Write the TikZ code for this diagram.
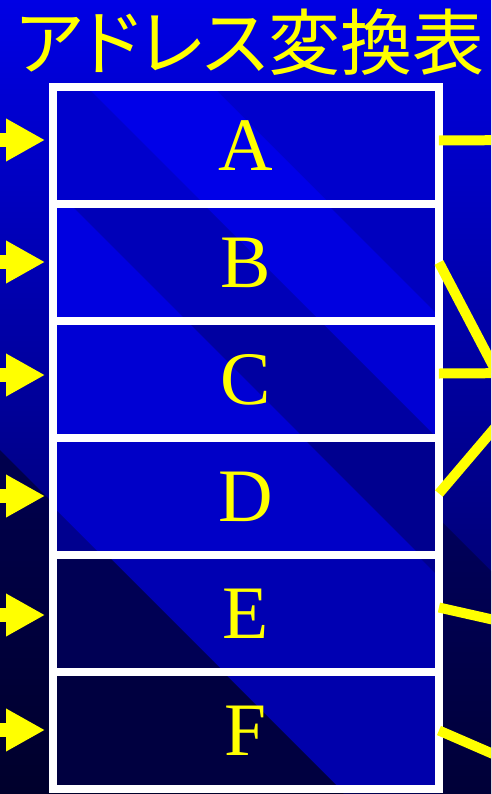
\documentclass[tikz,border=0pt]{standalone}
\usepackage{fontspec}
\setmainfont{Liberation Serif}
\newfontfamily\cjk[RawFeature=+palt]{Noto Sans CJK JP}
\usetikzlibrary{arrows.meta,calc}
\definecolor{bgTop}{HTML}{0000E4}
\definecolor{bgMid}{HTML}{0000D2}
\definecolor{bgBot}{HTML}{000050}
\definecolor{tabYellow}{HTML}{FFFF00}

% one diagonal band inside a cell: top x from #1 to #2 (pixels from the left edge)
\newcommand{\cellband}[3]{%
  \fill[#3] ($(path picture bounding box.north west)+(#1,0)$)
    -- ($(path picture bounding box.north west)+(#2,0)$)
    -- ($(path picture bounding box.north west)+(#2+117,117)$)
    -- ($(path picture bounding box.north west)+(#1+117,117)$) -- cycle;}

\begin{document}
\begin{tikzpicture}[
  x=0.02cm, y=-0.02cm,
  cell/.style={draw=white, line width=0.16cm, minimum width=7.72cm,
    minimum height=2.34cm, inner sep=0pt, outer sep=0pt, text=tabYellow,
    font=\fontsize{43}{43}\selectfont},
  feed/.style={draw=tabYellow, line width=0.28cm,
    -{Triangle[length=0.78cm, width=0.8cm]}, shorten >=0.16cm},
  link/.style={draw=tabYellow, line width=0.2cm},
]
  \useasboundingbox (0,0) rectangle (491,794);
  \clip (0,0) rectangle (491,794);

  % Background
  \fill[top color=bgTop, middle color=bgMid, bottom color=bgBot]
    (0,0) rectangle (491,794);
  \fill[black, opacity=0.45] (0,450) -- (344,794) -- (0,794) -- cycle;
  \fill[black, opacity=0.3] (440,520) -- (491,571) -- (491,794) -- (440,794) -- cycle;

  % Title
  \node[text=tabYellow, font=\cjk\fontsize{41}{41}\selectfont] (title)
    at (250,42) {アドレス変換表};

  % Table rows
  \node[cell, fill=blue!80!black, path picture={\cellband{34}{160}{blue!91!black}}]
    (A) at (246,145.5) {A};
  \node[cell, fill=blue!88!black, path picture={\cellband{17}{150}{blue!72!black}
    \cellband{274}{500}{blue!75!black}}]
    (B) at (246,262.5) {B};
  \node[cell, fill=blue!83!black, path picture={\cellband{134}{267}{blue!63!black}}]
    (C) at (246,379.5) {C};
  \node[cell, fill=blue!78!black, path picture={\cellband{250}{500}{blue!56!black}
    \cellband{-300}{-69}{blue!56!black}}]
    (D) at (246,496.5) {D};
  \node[cell, fill=blue!70!black, path picture={\cellband{-300}{54}{blue!33!black}
    \cellband{364}{500}{blue!56!black}}]
    (E) at (246,613.5) {E};
  \node[cell, fill=blue!67!black, path picture={\cellband{-300}{170}{blue!25!black}}]
    (F) at (246,730.5) {F};

  % Incoming addresses
  \coordinate (inA) at (-10,140);
  \coordinate (inB) at (-10,262);
  \coordinate (inC) at (-10,375);
  \coordinate (inD) at (-10,496);
  \coordinate (inE) at (-10,615);
  \coordinate (inF) at (-10,730);
  \draw[feed] (inA) -- (inA -| A.west);
  \draw[feed] (inB) -- (inB -| B.west);
  \draw[feed] (inC) -- (inC -| C.west);
  \draw[feed] (inD) -- (inD -| D.west);
  \draw[feed] (inE) -- (inE -| E.west);
  \draw[feed] (inF) -- (inF -| F.west);

  % Outgoing links
  \coordinate (outA) at (530,140);
  \coordinate (outB) at (510,398);
  \coordinate (outC) at (530,373);
  \coordinate (outD) at (510,410);
  \coordinate (outE) at (530,628);
  \coordinate (outF) at (530,770);
  \draw[link] ([yshift=0.1cm]A.east) -- (outA);
  \draw[link] (B.east) -- (outB);
  \draw[link] ([yshift=0.12cm]C.east) -- (outC);
  \draw[link] ([yshift=0.06cm]D.east) -- (outD);
  \draw[link] ([yshift=0.12cm]E.east) -- (outE);
  \draw[link] (F.east) -- (outF);
\end{tikzpicture}
\end{document}
